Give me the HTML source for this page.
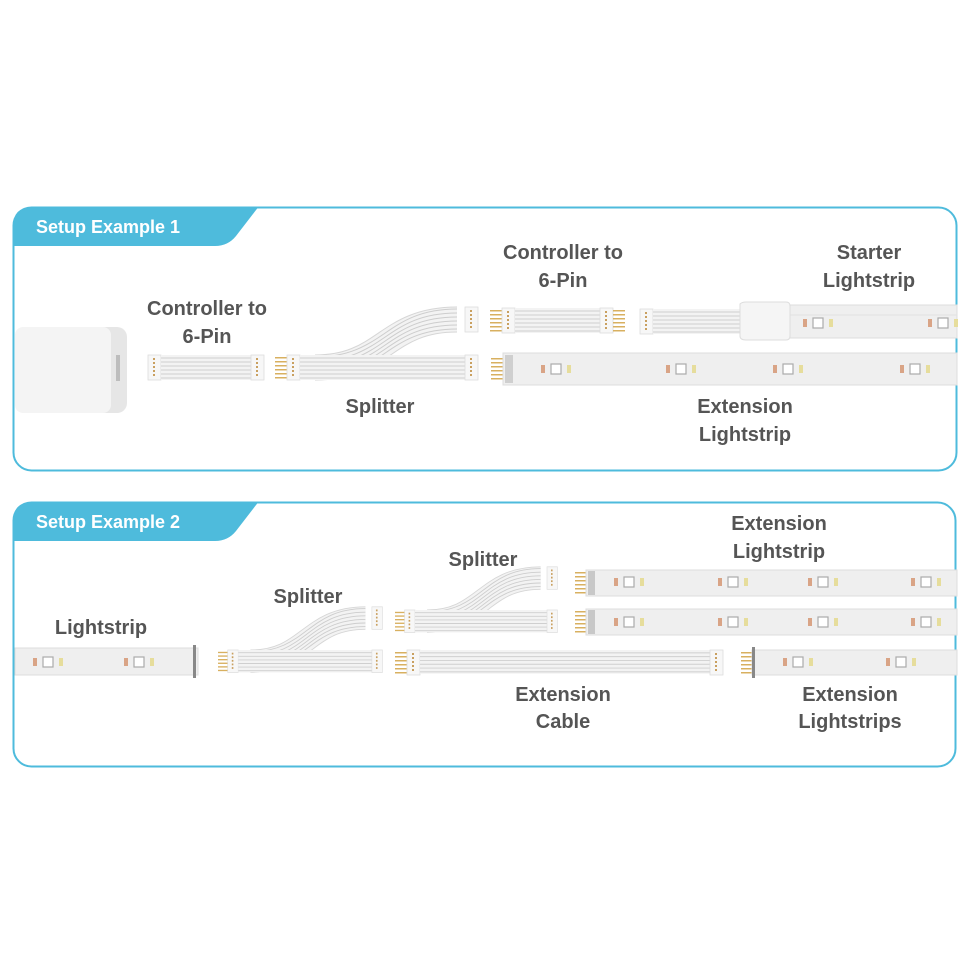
<!DOCTYPE html>
<html><head><meta charset="utf-8"><style>
html,body{margin:0;padding:0;background:#fff;width:970px;height:970px;overflow:hidden}
svg{display:block}
text{font-family:"Liberation Sans",sans-serif;font-weight:bold;fill:#555;font-size:20px;text-anchor:middle}
.t{fill:#fff;font-size:18px;text-anchor:start}
</style></head><body>
<svg width="970" height="970" viewBox="0 0 970 970" xmlns="http://www.w3.org/2000/svg">
<defs>
<g id="led">
 <rect x="0" y="-4" width="4" height="8" fill="#d9a486"/>
 <rect x="10" y="-5" width="10" height="10" fill="#fff" stroke="#aaa" stroke-width="1.2"/>
 <rect x="26" y="-4" width="4" height="8" fill="#e6dd9c"/>
</g>
<g id="pins">
 <rect x="0" y="0" width="12" height="1.5" fill="#d8b060"/><rect x="0" y="4" width="12" height="1.5" fill="#d8b060"/>
 <rect x="0" y="8" width="12" height="1.5" fill="#d8b060"/><rect x="0" y="12" width="12" height="1.5" fill="#d8b060"/>
 <rect x="0" y="16" width="12" height="1.5" fill="#d8b060"/><rect x="0" y="20" width="12" height="1.5" fill="#d8b060"/>
</g>
<g id="wires">
 <rect x="0" y="0" width="100" height="25" fill="#f3f3f3"/>
 <g stroke="#cfcfcf" stroke-width="1">
 <line x1="0" y1="3" x2="100" y2="3"/><line x1="0" y1="7" x2="100" y2="7"/><line x1="0" y1="11" x2="100" y2="11"/>
 <line x1="0" y1="15" x2="100" y2="15"/><line x1="0" y1="19" x2="100" y2="19"/><line x1="0" y1="23" x2="100" y2="23"/>
 </g>
</g>
<g id="conn">
 <rect x="0" y="0" width="13" height="25" fill="#f7f7f7" stroke="#ddd" stroke-width="0.8"/>
 <g fill="#c9a060"><rect x="5" y="3" width="2" height="2"/><rect x="5" y="7" width="2" height="2"/><rect x="5" y="11" width="2" height="2"/><rect x="5" y="15" width="2" height="2"/><rect x="5" y="19" width="2" height="2"/></g>
</g>
<g id="splitter">
 <use href="#pins" x="0" y="2"/>
 <use href="#conn" x="12" y="0"/>
 <path d="M40,12.5 C110,12.5 110,-35.5 182,-35.5" fill="none" stroke="#d6d6d6" stroke-width="26"/>
 <path d="M40,12.5 C110,12.5 110,-35.5 182,-35.5" fill="none" stroke="#f3f3f3" stroke-width="24"/>
 <g fill="none" stroke="#cdcdcd" stroke-width="1">
 <path d="M40,2 C110,2 110,-46 182,-46"/><path d="M40,6 C110,6 110,-42 182,-42"/><path d="M40,10 C110,10 110,-38 182,-38"/>
 <path d="M40,14 C110,14 110,-34 182,-34"/><path d="M40,18 C110,18 110,-30 182,-30"/><path d="M40,22 C110,22 110,-26 182,-26"/>
 </g>
 <use href="#wires" transform="translate(25,0) scale(1.66,1)"/>
 <use href="#conn" x="190" y="0"/>
 <use href="#conn" x="190" y="-48"/>
</g>
</defs>

<!-- Panel 1 -->
<rect x="13.5" y="207.5" width="943" height="263" rx="18" fill="#fff" stroke="#4ebbdc" stroke-width="2"/>
<path d="M13.5,246 L13.5,225 Q13.5,207.5 31,207.5 L258,207.5 L236,236 Q228,246 215,246 Z" fill="#4ebbdc"/>
<text class="t" x="36" y="233">Setup Example 1</text>

<!-- controller -->
<rect x="15" y="327" width="112" height="86" rx="10" fill="#e6e6e6"/>
<rect x="15" y="327" width="96" height="86" rx="8" fill="#f4f4f4"/>
<rect x="116" y="355" width="4" height="26" fill="#bdbdbd"/>

<!-- cable 1 -->
<use href="#conn" x="148" y="355"/>
<use href="#wires" transform="translate(161,355) scale(0.9,1)"/>
<use href="#conn" x="251" y="355"/>

<use href="#splitter" x="275" y="355"/>

<!-- controller to 6 pin 2 -->
<use href="#pins" x="490" y="310"/>
<use href="#conn" x="502" y="308"/>
<use href="#wires" transform="translate(515,308) scale(0.96,1)"/>
<use href="#conn" x="600" y="308"/>
<use href="#pins" x="613" y="310"/>

<!-- starter -->
<use href="#conn" x="640" y="309"/>
<use href="#wires" transform="translate(653,309) scale(0.9,1)"/>
<rect x="790" y="305" width="167" height="33" fill="#efefef" stroke="#ddd"/>
<line x1="790" y1="315" x2="957" y2="315" stroke="#e2e2e2"/>
<use href="#led" x="803" y="323"/><use href="#led" x="928" y="323"/>
<path d="M740,304 Q742,302 746,302 L786,302 Q790,302 790,306 L790,336 Q790,340 786,340 L746,340 Q740,340 740,336 Z" fill="#f5f5f5" stroke="#ddd"/>

<!-- extension strip 1 -->
<use href="#pins" x="491" y="358"/>
<rect x="503" y="353" width="454" height="32" fill="#efefef" stroke="#ddd"/>
<rect x="505" y="355" width="8" height="28" fill="#cfcfcf"/>
<use href="#led" x="541" y="369"/><use href="#led" x="666" y="369"/><use href="#led" x="773" y="369"/><use href="#led" x="900" y="369"/>

<text x="207" y="315">Controller to</text><text x="207" y="343">6-Pin</text>
<text x="380" y="413">Splitter</text>
<text x="563" y="259">Controller to</text><text x="563" y="287">6-Pin</text>
<text x="869" y="259">Starter</text><text x="869" y="287">Lightstrip</text>
<text x="745" y="413">Extension</text><text x="745" y="441">Lightstrip</text>

<!-- Panel 2 -->
<rect x="13.5" y="502.5" width="942" height="264" rx="18" fill="#fff" stroke="#4ebbdc" stroke-width="2"/>
<path d="M13.5,541 L13.5,520 Q13.5,502.5 31,502.5 L258,502.5 L236,531 Q228,541 215,541 Z" fill="#4ebbdc"/>
<text class="t" x="36" y="528">Setup Example 2</text>

<!-- lightstrip -->
<rect x="15" y="648" width="183" height="27" fill="#efefef" stroke="#ddd"/>
<use href="#led" x="33" y="662"/><use href="#led" x="124" y="662"/>
<rect x="193" y="645" width="3" height="33" fill="#888"/>

<use href="#splitter" transform="translate(218,650) scale(0.81,0.9)"/>
<use href="#splitter" transform="translate(395,610) scale(0.80,0.9)"/>

<!-- extension cable -->
<use href="#pins" x="395" y="652"/>
<use href="#conn" x="407" y="650"/>
<use href="#wires" transform="translate(420,650) scale(2.9,0.95)"/>
<use href="#conn" x="710" y="650"/>

<!-- ext strips -->
<use href="#pins" x="575" y="572"/>
<rect x="586" y="570" width="371" height="26" fill="#efefef" stroke="#ddd"/>
<rect x="588" y="571" width="7" height="24" fill="#c8c8c8"/>
<use href="#led" x="614" y="582"/><use href="#led" x="718" y="582"/><use href="#led" x="808" y="582"/><use href="#led" x="911" y="582"/>
<use href="#pins" x="575" y="611"/>
<rect x="586" y="609" width="371" height="26" fill="#efefef" stroke="#ddd"/>
<rect x="588" y="610" width="7" height="24" fill="#c8c8c8"/>
<use href="#led" x="614" y="622"/><use href="#led" x="718" y="622"/><use href="#led" x="808" y="622"/><use href="#led" x="911" y="622"/>
<use href="#pins" x="741" y="652"/>
<rect x="752" y="650" width="205" height="25" fill="#efefef" stroke="#ddd"/>
<rect x="752" y="647" width="3" height="31" fill="#888"/>
<use href="#led" x="783" y="662"/><use href="#led" x="886" y="662"/>

<text x="101" y="634">Lightstrip</text>
<text x="308" y="603">Splitter</text>
<text x="483" y="566">Splitter</text>
<text x="779" y="530">Extension</text><text x="779" y="558">Lightstrip</text>
<text x="563" y="701">Extension</text><text x="563" y="728">Cable</text>
<text x="850" y="701">Extension</text><text x="850" y="728">Lightstrips</text>
</svg>
</body></html>
